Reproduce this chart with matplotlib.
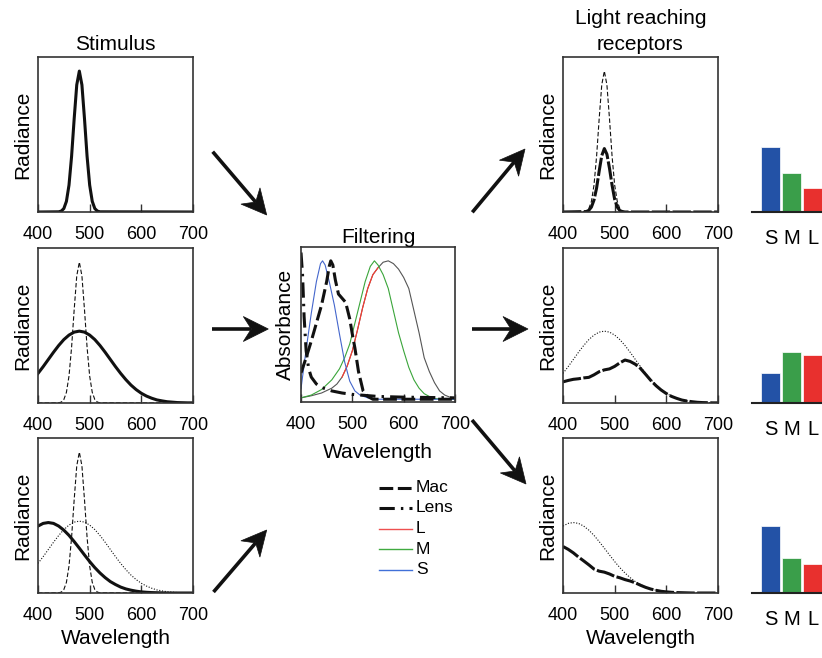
import math
import matplotlib
matplotlib.use('Agg')
import matplotlib.pyplot as plt
from matplotlib.patches import Polygon
from matplotlib.lines import Line2D

plt.rcParams['font.family'] = ['Liberation Sans', 'DejaVu Sans']

# ---------------- data ----------------
ticks = [400, 500, 600, 700]

# narrow stimulus (peak at 480 nm)
wl_narrow = [400, 440, 445, 450, 455, 460, 465, 470, 475, 480, 485, 490, 495, 500, 505, 510, 515, 520, 700]
narrow = [0, 0.0014, 0.0063, 0.0243, 0.0756, 0.191, 0.395, 0.661, 0.902, 1.0, 0.902, 0.661, 0.395, 0.191, 0.0756, 0.0243, 0.0063, 0.0014, 0]

# narrow stimulus after pre-receptoral filtering
wl_narrow_f = [400, 445, 450, 455, 460, 465, 470, 475, 480, 485, 490, 495, 500, 505, 510, 515, 520, 700]
narrow_f = [0, 0.003, 0.012, 0.035, 0.085, 0.17, 0.29, 0.40, 0.45, 0.41, 0.31, 0.19, 0.09, 0.035, 0.01, 0.003, 0, 0]

wl10 = [400, 410, 420, 430, 440, 450, 460, 470, 480, 490, 500, 510, 520, 530, 540, 550,
        560, 570, 580, 590, 600, 610, 620, 630, 640, 650, 660, 670, 680, 690, 700]
# broad stimulus centred at 480 nm
broad = [0.210, 0.258, 0.309, 0.360, 0.408, 0.450, 0.482, 0.503, 0.510, 0.503, 0.482, 0.450, 0.408,
         0.360, 0.309, 0.258, 0.210, 0.166, 0.127, 0.095, 0.069, 0.049, 0.034, 0.022, 0.015, 0.009,
         0.006, 0.003, 0.002, 0.001, 0.001]
broad_f = [0.150, 0.160, 0.168, 0.172, 0.178, 0.182, 0.200, 0.222, 0.235, 0.242, 0.260, 0.285, 0.305,
           0.295, 0.275, 0.245, 0.203, 0.160, 0.123, 0.092, 0.067, 0.047, 0.033, 0.021, 0.014, 0.009,
           0.005, 0.003, 0.002, 0.001, 0.001]
# short-wavelength broad stimulus centred at 420 nm
short = [0.475, 0.494, 0.500, 0.494, 0.475, 0.446, 0.409, 0.365, 0.318, 0.270, 0.223, 0.180, 0.142,
         0.109, 0.081, 0.060, 0.042, 0.029, 0.020, 0.013, 0.008, 0.005, 0.003, 0.002, 0.001, 0,
         0, 0, 0, 0, 0]
short_f = [0.330, 0.310, 0.285, 0.255, 0.228, 0.200, 0.170, 0.155, 0.148, 0.135, 0.118, 0.108, 0.095,
           0.085, 0.072, 0.055, 0.040, 0.028, 0.019, 0.012, 0.008, 0.005, 0.003, 0.002, 0.001, 0,
           0, 0, 0, 0, 0]

# filtering panel: absorbance spectra
wl_lens = [400, 403, 406, 410, 415, 420, 430, 440, 460, 480, 500, 550, 600, 700]
lens = [1.06, 0.90, 0.60, 0.35, 0.22, 0.16, 0.11, 0.085, 0.06, 0.045, 0.035, 0.02, 0.015, 0.01]
wl_mac = [400, 410, 420, 430, 440, 450, 455, 458, 462, 467, 473, 480, 487, 495, 500, 505, 512, 521, 530, 540, 700]
mac = [0.19, 0.30, 0.42, 0.55, 0.68, 0.85, 0.96, 1.0, 0.97, 0.86, 0.76, 0.73, 0.70, 0.58, 0.47, 0.37, 0.20, 0.06, 0.02, 0.0, 0.0]
wl_s = [400, 410, 420, 430, 438, 442, 447, 455, 465, 475, 485, 495, 505, 515, 530, 550, 700]
cone_s = [0.076, 0.36, 0.62, 0.85, 0.98, 1.0, 0.97, 0.85, 0.68, 0.47, 0.27, 0.13, 0.06, 0.03, 0.01, 0, 0]
wl_m = [400, 420, 440, 460, 475, 485, 495, 505, 515, 525, 535, 543, 550, 560, 570, 580, 590, 600,
        610, 620, 630, 640, 650, 660, 680, 700]
cone_m = [0.01, 0.03, 0.07, 0.14, 0.22, 0.30, 0.40, 0.55, 0.70, 0.85, 0.96, 1.0, 0.97, 0.90, 0.80,
          0.64, 0.48, 0.35, 0.23, 0.14, 0.08, 0.04, 0.02, 0.005, 0, 0]
wl_l = [400, 420, 440, 460, 470, 480, 490, 500, 510, 520, 530, 540, 550, 560, 570, 580, 590, 600,
        610, 620, 630, 640, 650, 660, 670, 680, 690, 700]
cone_l = [0.01, 0.025, 0.045, 0.08, 0.11, 0.16, 0.24, 0.35, 0.50, 0.66, 0.80, 0.90, 0.95, 0.99, 1.0,
          0.98, 0.94, 0.88, 0.80, 0.64, 0.48, 0.30, 0.20, 0.12, 0.06, 0.03, 0.015, 0.01]

# cone responses (bar charts)
cones = ['S', 'M', 'L']
resp_top = [65, 39, 24]
resp_mid = [30, 51, 48]
resp_bot = [67, 35, 29]
bar_colors = ['#2352a6', '#3a9e4a', '#e8302e']

# ---------------- layout ----------------
W, H = 822, 658
fig = plt.figure(figsize=(8.22, 6.58), dpi=100)


def rect(x0, y0, x1, y1):
    return [x0 / W, 1 - y1 / H, (x1 - x0) / W, (y1 - y0) / H]


def fx(x):
    return x / W


def fy(y):
    return 1 - y / H


SPINE = '#333333'
TH = 2.2
TN = 0.8


def style(ax, ylabel='Radiance', xlabel=None, ylim=(0, 1.1), xlabelpad=4):
    ax.set_xlim(400, 700)
    ax.set_ylim(*ylim)
    ax.set_xticks(ticks)
    ax.set_xticklabels([str(t) for t in ticks])
    ax.tick_params(axis='x', direction='in', length=6, width=1, labelsize=13, pad=10, color=SPINE)
    ax.set_yticks([])
    for s in ax.spines.values():
        s.set_linewidth(1.2)
        s.set_color(SPINE)
    ax.set_ylabel(ylabel, fontsize=15, labelpad=4)
    if xlabel:
        ax.set_xlabel(xlabel, fontsize=15, labelpad=xlabelpad)


LX = (38, 193)
RX = (563, 718)
ROWS = [(57, 212), (248, 403), (438, 593)]

# left column: stimuli
a1 = fig.add_axes(rect(LX[0], ROWS[0][0], LX[1], ROWS[0][1]))
a1.plot(wl_narrow, narrow, color='#111111', lw=TH)
style(a1)
a1.set_title('Stimulus', fontsize=15, pad=5)

a2 = fig.add_axes(rect(LX[0], ROWS[1][0], LX[1], ROWS[1][1]))
a2.plot(wl_narrow, narrow, color='#111111', lw=TN, dashes=(4, 2))
a2.plot(wl10, broad, color='#111111', lw=TH)
style(a2)

a3 = fig.add_axes(rect(LX[0], ROWS[2][0], LX[1], ROWS[2][1]))
a3.plot(wl_narrow, narrow, color='#111111', lw=TN, dashes=(4, 2))
a3.plot(wl10, broad, color='#111111', lw=TN, dashes=(1, 1.5))
a3.plot(wl10, short, color='#111111', lw=TH)
style(a3, xlabel='Wavelength')

# filtering panel
af = fig.add_axes(rect(301, 247, 455, 402))
af.plot(wl_l, cone_l, color='#555555', lw=TN)
af.plot(wl_m, cone_m, color='#3aa53a', lw=TN)
af.plot(wl_l[5:13], cone_l[5:13], color='#ff3b30', lw=TN)
af.plot(wl_s, cone_s, color='#4466cc', lw=TN)
af.plot(wl_mac, mac, color='#111111', lw=TH, dashes=(4.5, 1.5))
af.plot(wl_lens, lens, color='#111111', lw=TH, dashes=(5, 2, 0.8, 2))
style(af, ylabel='Absorbance', xlabel='Wavelength', ylim=(-0.02, 1.1), xlabelpad=7)
af.set_title('Filtering', fontsize=15, pad=3)

# legend (drawn manually)
leg_rows = [('Mac', '#111111', TH, (4.5, 1.5)),
            ('Lens', '#111111', TH, (5, 2, 0.8, 2)),
            ('L', '#ee5050', 1.0, None),
            ('M', '#40aa40', 1.0, None),
            ('S', '#4070d8', 1.0, None)]
for i, (lab, col, lw, ds) in enumerate(leg_rows):
    yy = 487.5 + i * 20.5
    ln = Line2D([fx(379), fx(412)], [fy(yy), fy(yy)], color=col, lw=lw, transform=fig.transFigure)
    if ds:
        ln.set_dashes(ds)
    fig.add_artist(ln)
    fig.text(fx(416), fy(yy), lab, fontsize=12.5, va='center', ha='left')

# right column: light reaching receptors
r1 = fig.add_axes(rect(RX[0], ROWS[0][0], RX[1], ROWS[0][1]))
r1.plot(wl_narrow, narrow, color='#111111', lw=TN, dashes=(4, 2))
r1.plot(wl_narrow_f, narrow_f, color='#111111', lw=TH, dashes=(6, 0.8))
style(r1)
r1.set_title('Light reaching\nreceptors', fontsize=15, pad=5, linespacing=1.5)

r2 = fig.add_axes(rect(RX[0], ROWS[1][0], RX[1], ROWS[1][1]))
r2.plot(wl10, broad, color='#111111', lw=TN, dashes=(1, 1.5))
r2.plot(wl10, broad_f, color='#111111', lw=TH, dashes=(6, 0.8))
style(r2)

r3 = fig.add_axes(rect(RX[0], ROWS[2][0], RX[1], ROWS[2][1]))
r3.plot(wl10, short, color='#111111', lw=TN, dashes=(1, 1.5))
r3.plot(wl10, short_f, color='#111111', lw=TH, dashes=(6, 0.8))
style(r3, xlabel='Wavelength')

# bar charts
for (top, bot), resp in zip(ROWS, [resp_top, resp_mid, resp_bot]):
    b = fig.add_axes(rect(752, top, 822, bot))
    b.bar(range(3), resp, width=0.905, color=bar_colors, edgecolor='white', linewidth=0.5)
    b.set_xlim(-0.881, 2.452)
    b.set_ylim(0, 155)
    b.set_yticks([])
    b.set_xticks(range(3))
    b.set_xticklabels(cones)
    b.tick_params(axis='x', length=0, labelsize=14.5, pad=12)
    for k in ['top', 'left', 'right']:
        b.spines[k].set_visible(False)
    b.spines['bottom'].set_linewidth(1.5)
    b.spines['bottom'].set_color('#222222')
    b.patch.set_alpha(0)

# arrows with notched (stealth-like) heads, in pixel coordinates
arrows = [((212.7, 151.7), (266.7, 215)),
          ((211.7, 329), (268.3, 329)),
          ((213.5, 592), (266.7, 530)),
          ((472.3, 212.3), (525, 149)),
          ((472, 329), (528, 329)),
          ((472, 420), (526, 484))]
HEAD_L, HEAD_W, NOTCH = 25.0, 12.5, 8.0
for (x0, y0), (x1, y1) in arrows:
    dx, dy = x1 - x0, y1 - y0
    n = math.hypot(dx, dy)
    ux, uy = dx / n, dy / n
    px, py = -uy, ux
    bx, by = x1 - HEAD_L * ux, y1 - HEAD_L * uy
    nx, ny = x1 - (HEAD_L - NOTCH) * ux, y1 - (HEAD_L - NOTCH) * uy
    shaft = Line2D([fx(x0), fx(nx)], [fy(y0), fy(ny)], color='#111111', lw=2.6,
                   solid_capstyle='butt', transform=fig.transFigure)
    fig.add_artist(shaft)
    pts = [(x1, y1), (bx + HEAD_W * px, by + HEAD_W * py), (nx, ny), (bx - HEAD_W * px, by - HEAD_W * py)]
    head = Polygon([(fx(a), fy(b)) for a, b in pts], closed=True, facecolor='#111111',
                   edgecolor='#111111', lw=0.5, transform=fig.transFigure)
    fig.add_artist(head)

fig.savefig('out.png', dpi=100)
